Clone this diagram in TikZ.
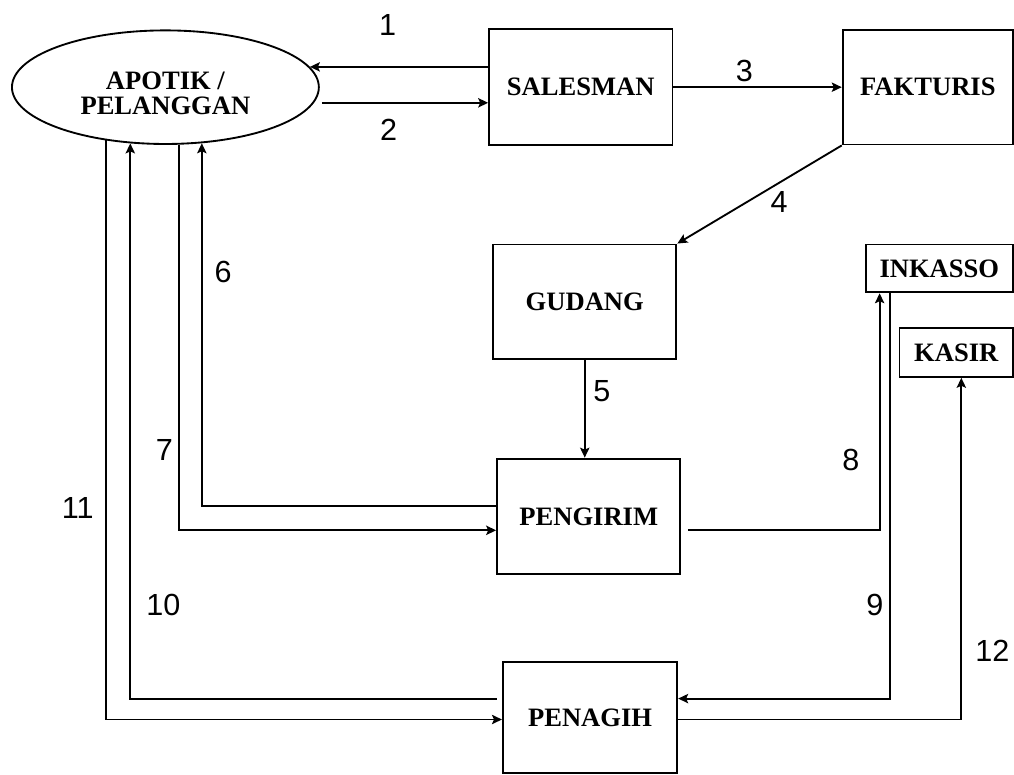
\documentclass[tikz,border=0pt]{standalone}
\usepackage{fontspec}
\setmainfont{Liberation Serif}
\newfontfamily\labelfont{Liberation Sans}
\usetikzlibrary{arrows.meta,shapes.geometric,positioning,calc}

\begin{document}
\begin{tikzpicture}[
    x=0.75pt, y=-0.75pt,
    unit/.style={rectangle, draw, line width=1.4pt, inner sep=0pt, font=\fontsize{20}{20}\selectfont\bfseries},
    customer/.style={ellipse, draw, line width=1.4pt, inner sep=0pt},
    flow/.style={-{Stealth[length=7.5pt,width=7pt,inset=1.5pt]}, line width=1.4pt},
    num/.style={font=\fontsize{23}{23}\labelfont}
]
    \fill[white] (0,0) rectangle (1014,774);

    % Customer
    \node[customer, minimum width=231pt, minimum height=85.5pt] (apotik) at (166,87.5) {};
    \node[align=center, font=\fontsize{20}{19}\selectfont\bfseries] (apotiktext) at ([yshift=-4.5pt]apotik.center) {APOTIK /\\PELANGGAN};

    % Units
    \node[unit, minimum width=138pt, minimum height=87pt, right=126.75pt of apotik] (salesman) {SALESMAN};
    \node[unit, minimum width=128.25pt, minimum height=86.25pt, right=126.75pt of salesman] (fakturis) {FAKTURIS};
    \node[unit, minimum width=138pt, minimum height=86.25pt, below=73.5pt of salesman, xshift=3pt] (gudang) {GUDANG};
    \node[unit, minimum width=138pt, minimum height=87pt, below=73.5pt of gudang, xshift=3pt] (pengirim) {PENGIRIM};
    \node[unit, minimum width=131.25pt, minimum height=84pt, below=64.5pt of pengirim, xshift=1pt] (penagih) {PENAGIH};
    \node[unit, minimum width=111pt, minimum height=36pt, anchor=north east] (inkasso) at (fakturis.south east |- gudang.north) {INKASSO};
    \node[unit, minimum width=85.5pt, minimum height=36.75pt, below=25.5pt of inkasso.south east, anchor=north east] (kasir) {KASIR};

    % Order
    \draw[flow] (salesman.west |- apotik.8) -- (apotik.8);
    \draw[flow] ([xshift=6pt]apotik.-6) -- (apotik.-6 -| salesman.west);
    \draw[flow] (salesman.east) -- (fakturis.west);
    \draw[flow] (fakturis.south west) -- (gudang.north east);
    \draw[flow] (gudang.south) -- (gudang.south |- pengirim.north);

    % Delivery
    \draw[flow] ([yshift=7.5pt]pengirim.west) -| (apotik.-57.8);
    \draw[flow] (apotik.-77.1) |- ([yshift=-10.5pt]pengirim.west);
    \draw[flow] ([xshift=5pt,yshift=-10.5pt]pengirim.east) -| ([xshift=11.25pt]inkasso.south west);

    % Billing
    \draw[flow] ([xshift=18.75pt]inkasso.south west) |- ([yshift=14.25pt]penagih.east);
    \draw[flow] ([xshift=-4pt,yshift=14.25pt]penagih.west) -| (apotik.-122.2);
    \draw[flow] (apotik.-138.25) |- ([yshift=-1.5pt]penagih.west);
    \draw[flow] ([yshift=-1.5pt]penagih.east) -| ([xshift=47.25pt]kasir.south west);

    % Numbers
    \node[num] (n1) at (389,25) {1};
    \node[num] (n2) at (390,130) {2};
    \node[num] (n3) at (747,71) {3};
    \node[num] (n4) at (782,203) {4};
    \node[num] (n5) at (604,393) {5};
    \node[num] (n6) at (224,273) {6};
    \node[num] (n7) at (165,452) {7};
    \node[num] (n8) at (854,462) {8};
    \node[num] (n9) at (878,607) {9};
    \node[num] (n10) at (164,607) {10};
    \node[num] (n11) at (78,510) {11};
    \node[num] (n12) at (996,653) {12};
\end{tikzpicture}
\end{document}
